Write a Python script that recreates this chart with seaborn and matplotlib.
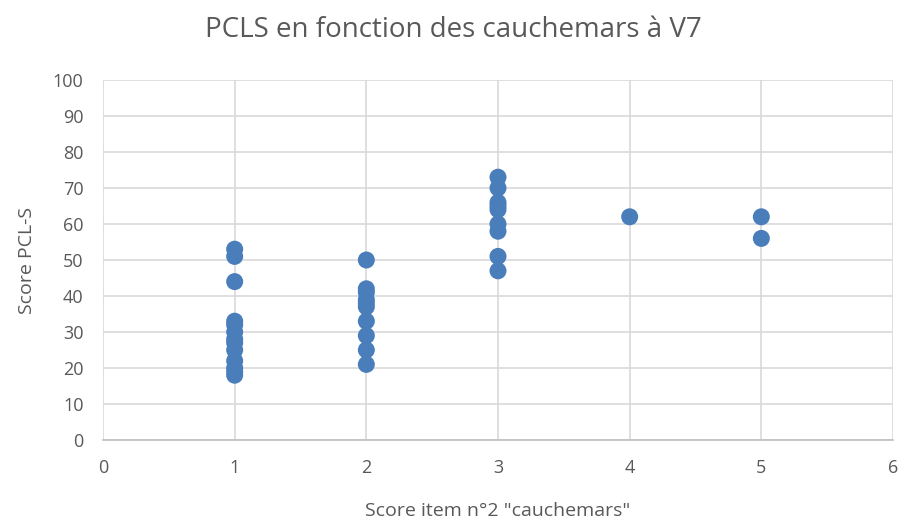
import matplotlib
matplotlib.use("Agg")
import matplotlib.pyplot as plt
import seaborn as sns
import pandas as pd

x1 = [1]*13
y1 = [53, 51, 44, 33, 32, 30, 28, 27, 25, 22, 20, 19, 18]
x2 = [2]*10
y2 = [50, 42, 41, 39, 38, 37, 33, 29, 25, 21]
x3 = [3]*9
y3 = [73, 70, 66, 65, 64, 60, 58, 51, 47]
x4 = [4]
y4 = [62]
x5 = [5, 5]
y5 = [62, 56]

df = pd.DataFrame({"x": x1 + x2 + x3 + x4 + x5, "y": y1 + y2 + y3 + y4 + y5})

sns.set_style("white")
plt.rcParams['font.family'] = ['Open Sans', 'DejaVu Sans']

fig = plt.figure(figsize=(9.06, 5.21), dpi=100)
ax = fig.add_axes([103/906, 1-440/521, 790/906, 360/521])

sns.scatterplot(data=df, x="x", y="y", ax=ax, color="#4a7ebb", s=150, edgecolor="none", zorder=3)

ax.set_xlim(0, 6)
ax.set_ylim(0, 100)
ax.set_xticks(range(0, 7))
ax.set_yticks(range(0, 101, 10))
ax.grid(True, color="#d9d9d9", linewidth=1.2, zorder=0)
ax.set_axisbelow(True)
for s in ["top", "right", "left"]:
    ax.spines[s].set_visible(False)
ax.spines["bottom"].set_color("#bfbfbf")
ax.spines["bottom"].set_linewidth(1.2)
ax.tick_params(axis="x", length=0, labelsize=13, labelcolor="#595959", pad=14)
ax.tick_params(axis="y", length=0, labelsize=13, labelcolor="#595959", pad=14)
ax.set_xlabel("Score item n°2 \"cauchemars\"", fontsize=14, color="#595959", labelpad=18)
ax.set_ylabel("Score PCL-S", fontsize=14, color="#595959", labelpad=12)
fig.suptitle("PCLS en fonction des cauchemars à V7", fontsize=20, color="#595959", y=0.97, x=0.5)

fig.savefig("out.png", dpi=100)
